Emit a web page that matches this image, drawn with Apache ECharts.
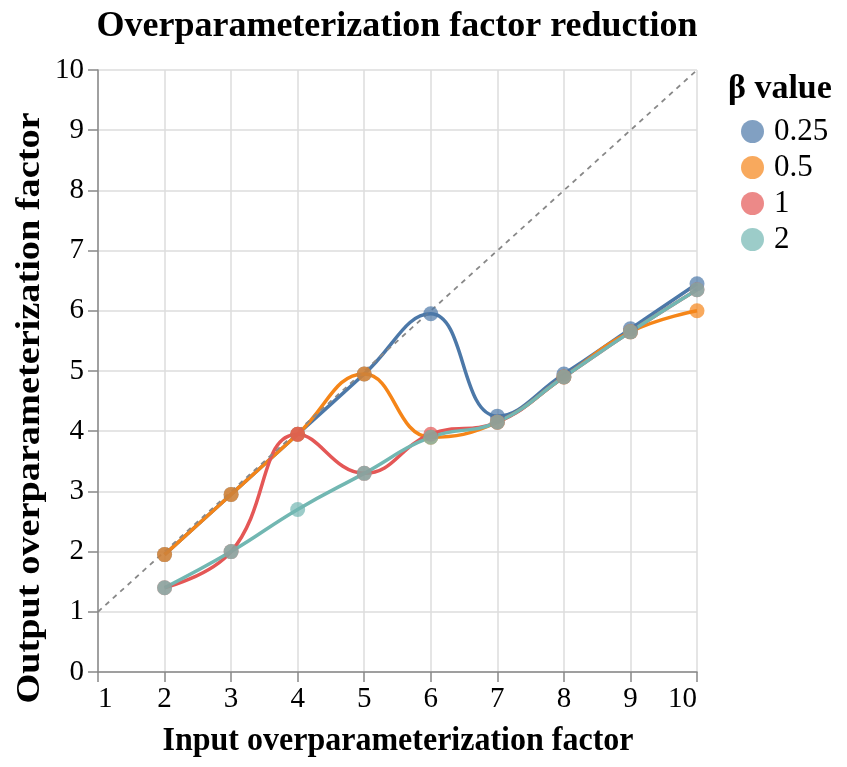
<!DOCTYPE html>
<html><head><meta charset="utf-8">
<script src="https://cdn.jsdelivr.net/npm/echarts@6/dist/echarts.min.js"></script>
<style>html,body{margin:0;padding:0;background:#fff}#c{width:847px;height:767px}</style>
</head><body><div id="c"></div>
<script>
const xValues = [2, 3, 4, 5, 6, 7, 8, 9, 10];
const beta025 = [1.95, 2.95, 3.95, 4.95, 5.95, 4.25, 4.95, 5.7, 6.45];
const beta05  = [1.95, 2.95, 3.95, 4.95, 3.9, 4.15, 4.9, 5.65, 6.0];
const beta1   = [1.4, 2.0, 3.95, 3.3, 3.95, 4.15, 4.9, 5.65, 6.35];
const beta2   = [1.4, 2.0, 2.7, 3.3, 3.9, 4.15, 4.9, 5.65, 6.35];
const seriesNames = ['0.25', '0.5', '1', '2'];
const colors = ['#4c78a8', '#f58518', '#e45756', '#72b7b2'];
const diagonal = [[1, 1], [10, 10]];
const allSeries = [beta025, beta05, beta1, beta2];
const font = 'Liberation Serif';

const series = [];
allSeries.forEach((vals, i) => {
  const pts = xValues.map((x, j) => [x, vals[j]]);
  series.push({
    name: seriesNames[i], type: 'line', data: pts, smooth: 0.45,
    showSymbol: false, z: 2,
    lineStyle: { color: colors[i], width: 3.5 }, itemStyle: { color: colors[i], opacity: 0.7 },
    emphasis: { disabled: true }
  });
});
series.push({
  name: 'diag', type: 'line', data: diagonal, showSymbol: false, z: 3, silent: true,
  lineStyle: { color: '#888', width: 1.8, type: [5, 5] }
});
allSeries.forEach((vals, i) => {
  const pts = xValues.map((x, j) => [x, vals[j]]);
  series.push({
    name: seriesNames[i], type: 'scatter', data: pts, symbolSize: 15, z: 4,
    itemStyle: { color: colors[i], opacity: 0.7 }, emphasis: { disabled: true }
  });
});

const chart = echarts.init(document.getElementById('c'), null, { renderer: 'canvas' });
chart.setOption({
  animation: false,
  backgroundColor: '#fff',
  graphic: [
    { type: 'text', silent: true, position: [397, 27],
      style: { text: 'Overparameterization factor reduction', align: 'center', verticalAlign: 'middle',
        font: 'bold 36px "Liberation Serif"', fill: '#000' } },
    { type: 'text', silent: true, position: [728, 89],
      style: { text: 'β value', align: 'left', verticalAlign: 'middle',
        font: 'bold 34px "Liberation Serif"', fill: '#000' } },
    { type: 'text', silent: true, position: [398, 741],
      style: { text: 'Input overparameterization factor', align: 'center', verticalAlign: 'middle',
        font: 'bold 33px "Liberation Serif"', fill: '#000' }, scaleX: 0.97 },
    { type: 'text', silent: true, position: [30, 408], rotation: Math.PI / 2, scaleX: 1.16,
      style: { text: 'Output overparameterization factor', align: 'center', verticalAlign: 'middle',
        font: 'bold 33px "Liberation Serif"', fill: '#000' } }
  ],
  legend: {
    data: seriesNames.map((n, i) => ({ name: n, itemStyle: { color: colors[i], opacity: 0.7 } })),
    orient: 'vertical', left: 736, top: 111, itemGap: 5, itemWidth: 23, itemHeight: 23,
    icon: 'circle', selectedMode: false,
    textStyle: { fontFamily: font, fontSize: 31, color: '#000', padding: [0, 0, 0, 5] }
  },
  grid: { left: 98, right: 150, top: 70, bottom: 95, containLabel: false },
  xAxis: {
    type: 'value', min: 1, max: 10, interval: 1,
    axisLine: { lineStyle: { color: '#888', width: 1.5 } },
    axisTick: { show: true, length: 10, lineStyle: { color: '#888', width: 1.5 } },
    axisLabel: { fontFamily: font, fontSize: 29, color: '#000', margin: 13,
      alignMinLabel: 'left', alignMaxLabel: 'right' },
    splitLine: { show: true, lineStyle: { color: '#ddd', width: 1.5 } }
  },
  yAxis: {
    type: 'value', min: 0, max: 10, interval: 1,
    axisLine: { show: true, lineStyle: { color: '#888', width: 1.5 } },
    axisTick: { show: true, length: 10, lineStyle: { color: '#888', width: 1.5 } },
    axisLabel: { fontFamily: font, fontSize: 29, color: '#000', margin: 14 },
    splitLine: { show: true, lineStyle: { color: '#ddd', width: 1.5 } }
  },
  series: series
});
</script></body></html>
